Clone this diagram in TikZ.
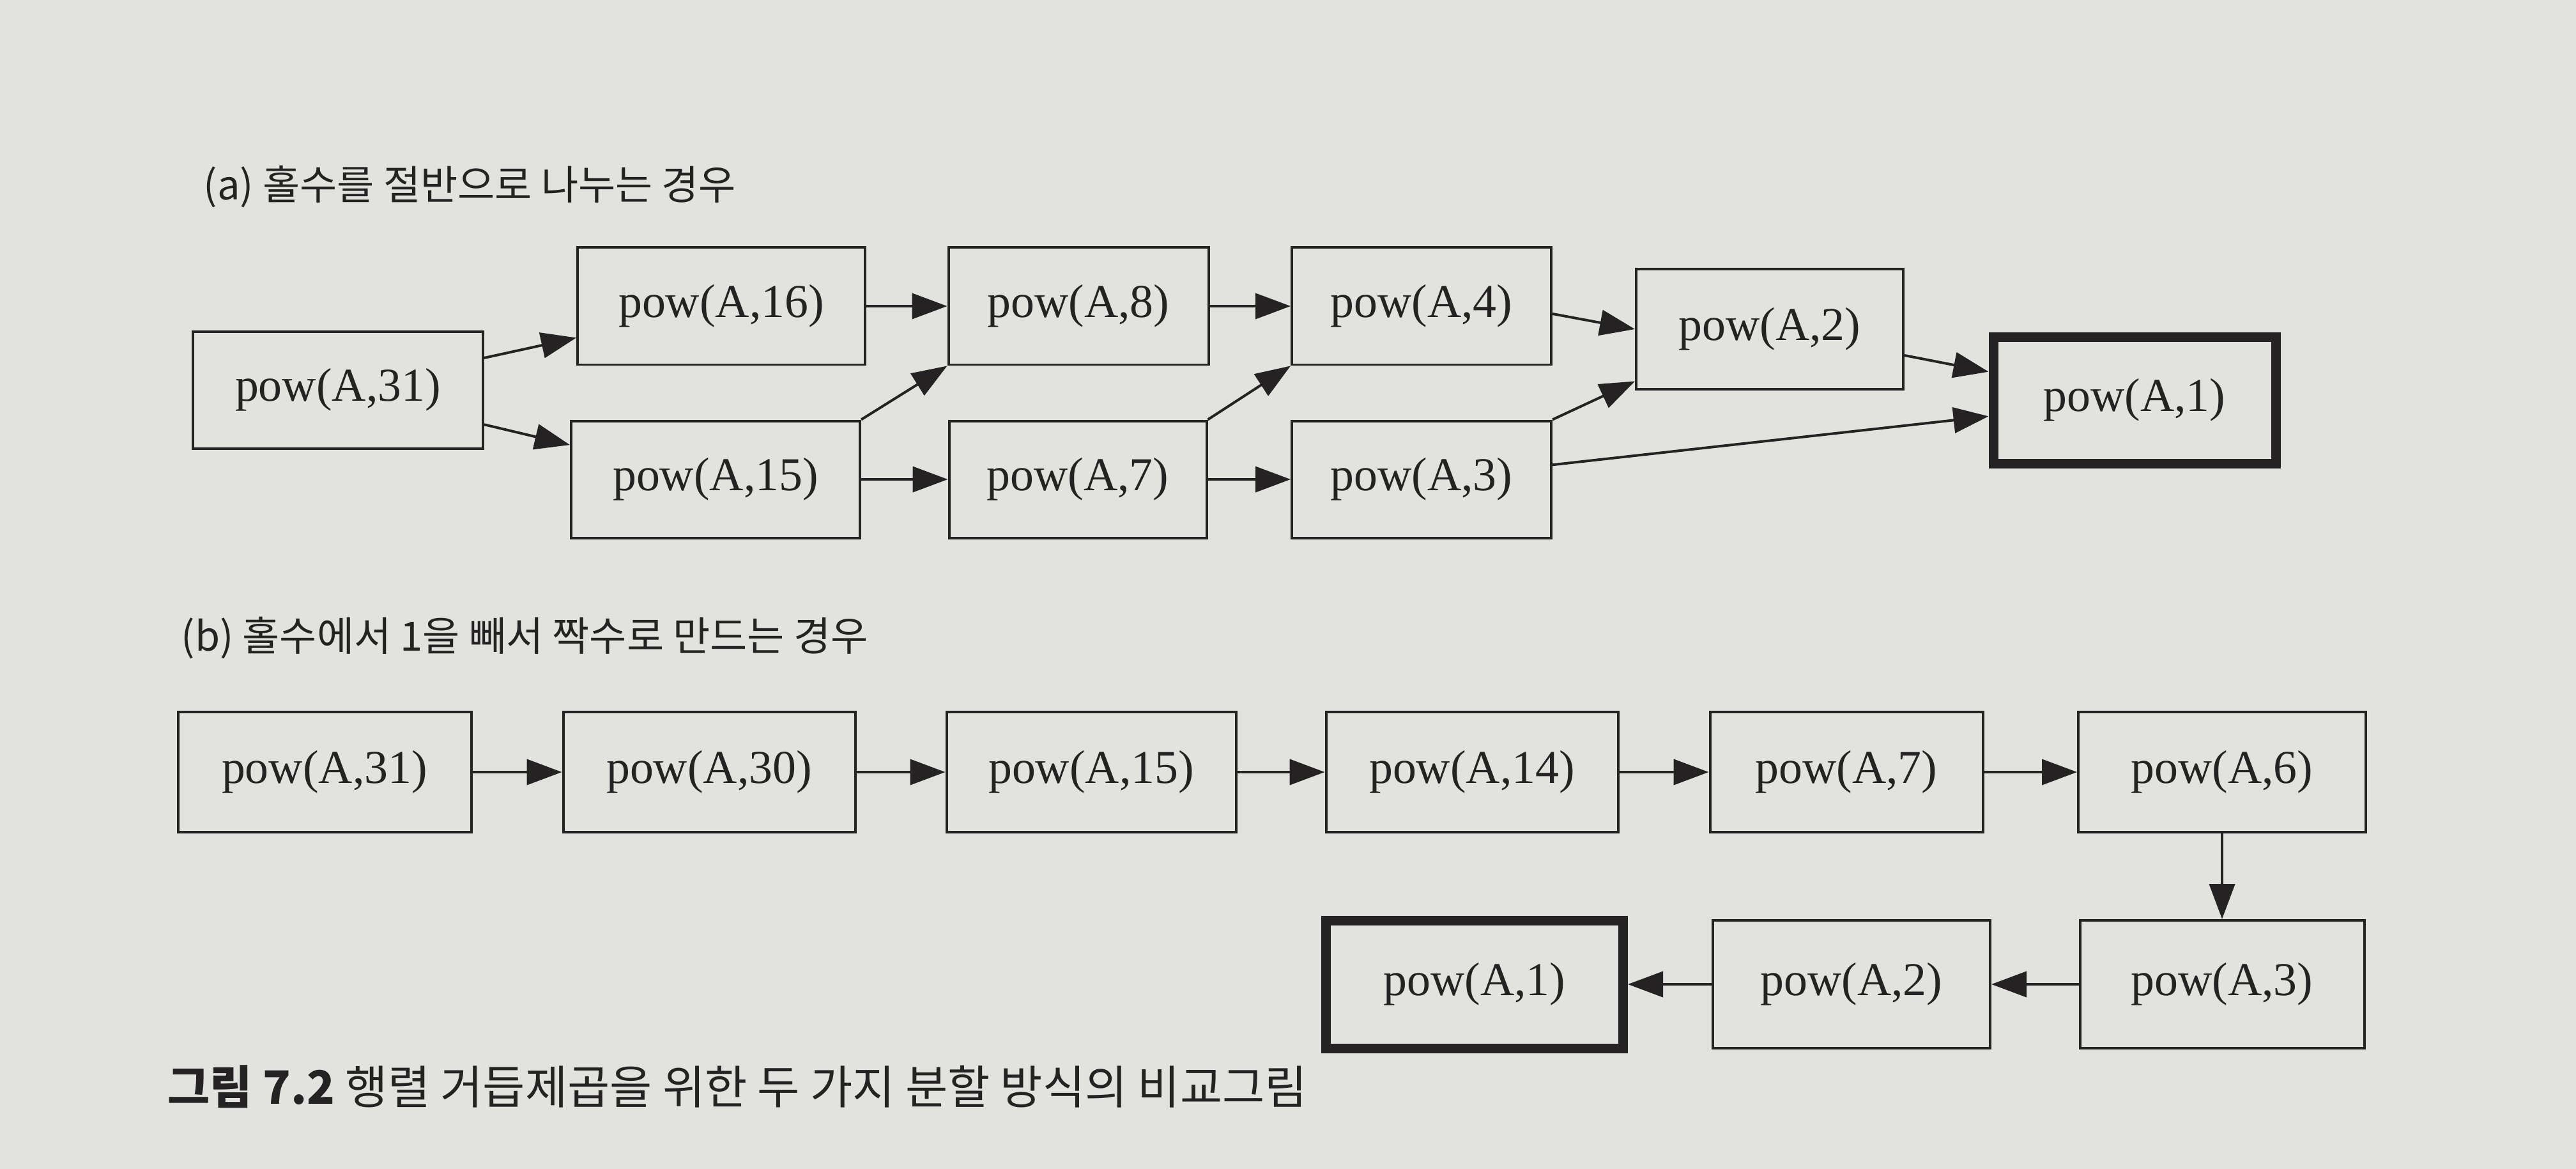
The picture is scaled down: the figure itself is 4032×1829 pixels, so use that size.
\documentclass[tikz,border=0pt]{standalone}
\usepackage{fontspec}
\setmainfont{Liberation Serif}
\newfontfamily\kr{Noto Sans CJK KR}
\usetikzlibrary{arrows.meta}
\definecolor{paper}{RGB}{226,226,223}
\definecolor{ink}{RGB}{36,34,34}
\begin{document}
\begin{tikzpicture}[x=0.1mm,y=-0.1mm,
  box/.style={draw=ink, line width=0.4mm, inner sep=0pt, text=ink,
    minimum height=18.3mm, font=\fontsize{21}{24}\selectfont},
  goal/.style={box, line width=1.5mm},
  edge/.style={draw=ink, line width=0.4mm, -{Triangle[length=5.5mm,width=4mm]}},
  lbl/.style={anchor=west, inner sep=0pt, text=ink, font=\kr\fontsize{18}{22}\selectfont}]
\fill[paper] (0,0) rectangle (4032,1829);
\useasboundingbox (0,0) rectangle (4032,1829);

% (a)
\node[lbl] (la) at (318,292) {(a) 홀수를 절반으로 나누는 경우};
\node[box, minimum width=45.4mm] (a31) at (529,610) {pow(A,31)};
\node[box, minimum width=45.0mm] (a16) at (1129,479) {pow(A,16)};
\node[box, minimum width=45.2mm] (a15) at (1120,750) {pow(A,15)};
\node[box, minimum width=40.7mm] (a8) at (1688,479) {pow(A,8)};
\node[box, minimum width=40.3mm] (a7) at (1687,750) {pow(A,7)};
\node[box, minimum width=40.6mm] (a4) at (2225,479) {pow(A,4)};
\node[box, minimum width=40.6mm] (a3) at (2225,750) {pow(A,3)};
\node[box, minimum width=41.8mm, minimum height=18.7mm] (a2) at (2770,515) {pow(A,2)};
\node[goal, minimum width=44.2mm, minimum height=19.8mm] (a1) at (3341,626) {pow(A,1)};

\draw[edge] (a31) -- (a16);
\draw[edge] (a31) -- (a15);
\draw[edge] (a16) -- (a8);
\draw[edge] (a15.north east) -- (a8.south west);
\draw[edge] (a15) -- (a7);
\draw[edge] (a8) -- (a4);
\draw[edge] (a7.north east) -- (a4.south west);
\draw[edge] (a7) -- (a3);
\draw[edge] ([yshift=-1.2mm]a4.east) -- (a2.west);
\draw[edge] (a3.north east) -- ([yshift=1.4mm]a2.south west);
\draw[edge] (a2) -- (a1);
\draw[edge] (a3) -- (a1);

% (b)
\node[lbl] (lb) at (283,998) {(b) 홀수에서 1을 빼서 짝수로 만드는 경우};
\node[box, minimum width=45.9mm, minimum height=18.8mm] (b31) at (508,1208) {pow(A,31)};
\node[box, minimum width=45.7mm, minimum height=18.8mm] (b30) at (1110,1208) {pow(A,30)};
\node[box, minimum width=45.3mm, minimum height=18.8mm] (b15) at (1708,1208) {pow(A,15)};
\node[box, minimum width=45.7mm, minimum height=18.8mm] (b14) at (2304,1208) {pow(A,14)};
\node[box, minimum width=42.7mm, minimum height=18.8mm] (b7) at (2890,1208) {pow(A,7)};
\node[box, minimum width=45.0mm, minimum height=18.8mm] (b6) at (3478,1208) {pow(A,6)};
\node[box, minimum width=44.5mm, minimum height=20.0mm] (b3) at (3478,1540) {pow(A,3)};
\node[box, minimum width=43.4mm, minimum height=20.0mm] (b2) at (2898,1540) {pow(A,2)};
\node[goal, minimum width=46.5mm, minimum height=20.0mm] (b1) at (2308,1540) {pow(A,1)};

\draw[edge] (b31) -- (b30);
\draw[edge] (b30) -- (b15);
\draw[edge] (b15) -- (b14);
\draw[edge] (b14) -- (b7);
\draw[edge] (b7) -- (b6);
\draw[edge] (b6) -- (b3);
\draw[edge] (b3) -- (b2);
\draw[edge] (b2) -- (b1);

% caption
\node[lbl, font=\kr\fontsize{20.5}{24}\selectfont] (cap) at (262,1700)
  {\textbf{그림 7.2} 행렬 거듭제곱을 위한 두 가지 분할 방식의 비교그림};
\end{tikzpicture}
\end{document}
